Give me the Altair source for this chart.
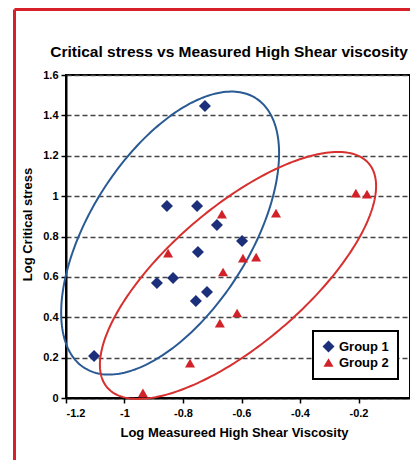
import altair as alt
import numpy as np
import pandas as pd

# ---- data ----
groups = ["Group 1", "Group 2"]
g1_x = [-0.855, -0.752, -0.684, -0.598, -0.749, -0.834, -0.889, -0.718, -0.756, -0.725, -1.104]
g1_y = [0.951, 0.951, 0.857, 0.778, 0.723, 0.594, 0.570, 0.525, 0.480, 1.446, 0.208]
g2_x = [-0.667, -0.482, -0.851, -0.595, -0.550, -0.663, -0.209, -0.171, -0.674, -0.615, -0.776, -0.937]
g2_y = [0.911, 0.916, 0.718, 0.693, 0.698, 0.624, 1.015, 1.010, 0.371, 0.421, 0.173, 0.025]

x_ticks = [-1.2, -1, -0.8, -0.6, -0.4, -0.2, 0]
y_ticks = [0, 0.2, 0.4, 0.6, 0.8, 1, 1.2, 1.4, 1.6]

# confidence ellipses: centre and two conjugate semi-axis vectors (data units)
blue_centre = [-0.844, 0.817]
blue_u = [0.293, 0.668]
blue_v = [-0.230, 0.212]
red_centre = [-0.612, 0.607]
red_u = [0.447, 0.555]
red_v = [-0.152, 0.257]

FONT = "Liberation Sans"
NAVY = "#1c2f7a"
RED = "#d12229"
BLUE_LINE = "#2a5a94"
RED_LINE = "#d6302f"
FRAME_RED = "#d8202a"
W_VIEW, W_AXIS, H = 344, 351, 323

pts_df = pd.DataFrame({
    "x": g1_x + g2_x,
    "y": g1_y + g2_y,
    "group": [groups[0]] * len(g1_x) + [groups[1]] * len(g2_x),
})


def ellipse(centre, u, v, n=241):
    t = np.linspace(0, 2 * np.pi, n)
    return pd.DataFrame({
        "x": centre[0] + u[0] * np.cos(t) + v[0] * np.sin(t),
        "y": centre[1] + u[1] * np.cos(t) + v[1] * np.sin(t),
        "i": np.arange(n),
    })


blue_df = ellipse(blue_centre, blue_u, blue_v)
red_df = ellipse(red_centre, red_u, red_v)

xs = alt.Scale(domain=[-1.2, 0], range=[0, W_AXIS], nice=False, zero=False)
ys = alt.Scale(domain=[0, 1.6], nice=False, zero=False)

x_enc = alt.X("x:Q", scale=xs, axis=alt.Axis(
    values=x_ticks, labelExpr="toString(datum.value)",
    title="Log Measureed High Shear Viscosity", grid=False,
    labelPadding=4, titleX=168, titleY=34, titleBaseline="middle", titleAlign="center"))
y_enc = alt.Y("y:Q", scale=ys, axis=alt.Axis(
    values=y_ticks, labelExpr="toString(datum.value)",
    title="Log Critical stress", grid=True, gridDash=[5, 3], gridColor="#444444",
    gridWidth=1.4, labelPadding=3, titleX=-39, titleY=149,
    titleBaseline="middle", titleAlign="center"))

one = pd.DataFrame({"k": [0]})
frame_top = alt.Chart(one).mark_rule(color=FRAME_RED, strokeWidth=3).encode(
    x=alt.value(-51.5), x2=alt.value(W_AXIS + 10), y=alt.value(-65.5))
frame_left = alt.Chart(one).mark_rule(color=FRAME_RED, strokeWidth=3).encode(
    x=alt.value(-51.5), y=alt.value(-65.5), y2=alt.value(H + 70))

blue_line = alt.Chart(blue_df).mark_line(color=BLUE_LINE, strokeWidth=2).encode(
    x=x_enc, y=y_enc, order="i:Q")
red_line = alt.Chart(red_df).mark_line(color=RED_LINE, strokeWidth=2).encode(
    x=x_enc, y=y_enc, order="i:Q")

leg = alt.Legend(title=None, orient="none", legendX=247, legendY=256,
                 padding=9, symbolSize=230, symbolStrokeWidth=0,
                 labelFont=FONT, labelFontSize=13, labelFontWeight="bold",
                 labelColor="black", strokeColor="black", fillColor="white",
                 rowPadding=2, labelOffset=4)

points = alt.Chart(pts_df).mark_point(filled=True, opacity=1, strokeWidth=0).encode(
    x=x_enc, y=y_enc,
    color=alt.Color("group:N", scale=alt.Scale(domain=groups, range=[NAVY, RED]), legend=leg),
    shape=alt.Shape("group:N", scale=alt.Scale(domain=groups, range=["diamond", "triangle-up"]), legend=leg),
    size=alt.Size("group:N", scale=alt.Scale(domain=groups, range=[144, 100]), legend=None),
)

chart = alt.layer(frame_top, frame_left, blue_line, red_line, points).properties(
    width=W_VIEW, height=H,
    padding={"left": 58, "top": 67, "right": 0, "bottom": 62},
    autosize=alt.AutoSizeParams(type="none"),
    title=alt.Title("Critical stress vs Measured High Shear viscosity",
                    font=FONT, fontSize=15.5, fontWeight="bold", color="black",
                    anchor="middle", frame="group", dx=-9, offset=-64,
                    baseline="alphabetic"),
).configure_view(
    stroke="black", strokeWidth=2
).configure_axis(
    domainColor="black", domainWidth=2, tickColor="black", tickWidth=1.5, tickSize=5,
    labelFont=FONT, labelFontSize=11, labelFontWeight="bold", labelColor="black",
    titleFont=FONT, titleFontSize=13, titleFontWeight="bold", titleColor="black",
).configure_legend(strokeWidth=2)

chart.save("out.html", embed_options={"renderer": "svg", "actions": False})
